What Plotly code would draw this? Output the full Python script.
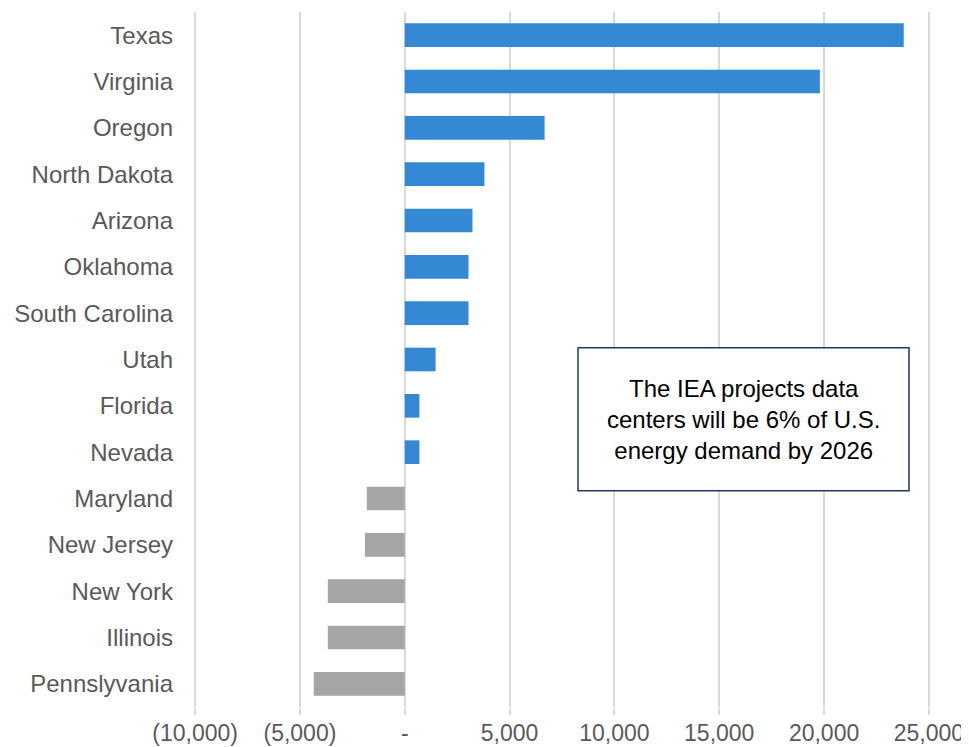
import plotly.graph_objects as go

states = ["Texas", "Virginia", "Oregon", "North Dakota", "Arizona", "Oklahoma",
          "South Carolina", "Utah", "Florida", "Nevada", "Maryland", "New Jersey",
          "New York", "Illinois", "Pennslyvania"]
values = [23800, 19800, 6670, 3800, 3230, 3040, 3040, 1470, 700, 700,
          -1810, -1900, -3670, -3670, -4340]

tick_vals = [-10000, -5000, 0, 5000, 10000, 15000, 20000, 25000]
tick_text = ["(10,000)", "(5,000)", "-", "5,000", "10,000", "15,000", "20,000", "25,000"]

note_text = "The IEA projects data<br>centers will be 6% of U.S.<br>energy demand by 2026"

BLUE = "#3589D4"
GREY = "#A5A5A5"
GRID = "#D9D9D9"
LABEL = "#595959"
FONT = "Liberation Sans, Arial, sans-serif"

colors = [BLUE if v >= 0 else GREY for v in values]

fig = go.Figure(go.Bar(
    y=states, x=values, orientation="h",
    marker=dict(color=colors, line=dict(width=0)),
    width=0.51,
))

# page body has an 8px default margin, so the figure is 8px smaller and shifted
fig.update_layout(
    width=961, height=739,
    margin=dict(l=185, r=38, t=4, b=40, autoexpand=False),
    paper_bgcolor="white", plot_bgcolor="white",
    showlegend=False,
    font=dict(family=FONT, size=24, color=LABEL),
)

fig.update_xaxes(
    range=[-10100, 25100],
    tickvals=tick_vals, ticktext=tick_text,
    showgrid=True, gridcolor=GRID, gridwidth=1.5,
    zeroline=True, zerolinecolor=GRID, zerolinewidth=1.5,
    ticks="outside", ticklen=7, tickcolor=GRID, tickwidth=1.5,
    ticklabelstandoff=-2,
    showline=False,
    automargin=False,
    tickfont=dict(family=FONT, size=23, color=LABEL),
)
fig.update_yaxes(
    autorange="reversed",
    showgrid=False, showline=False, ticks="",
    ticklabelstandoff=19,
    automargin=False,
    tickfont=dict(family=FONT, size=24, color=LABEL),
)

fig.add_shape(
    type="rect", xref="paper", yref="paper",
    x0=0.5217, x1=0.9702, y0=0.311, y1=0.517,
    line=dict(color="#203864", width=1.5),
    fillcolor="white", layer="above",
)
fig.add_annotation(
    xref="paper", yref="paper", x=0.746, y=0.414,
    text=note_text, showarrow=False, align="center",
    xanchor="center", yanchor="middle",
    font=dict(family=FONT, size=24, color="black"),
)

fig.write_html("out.html")
